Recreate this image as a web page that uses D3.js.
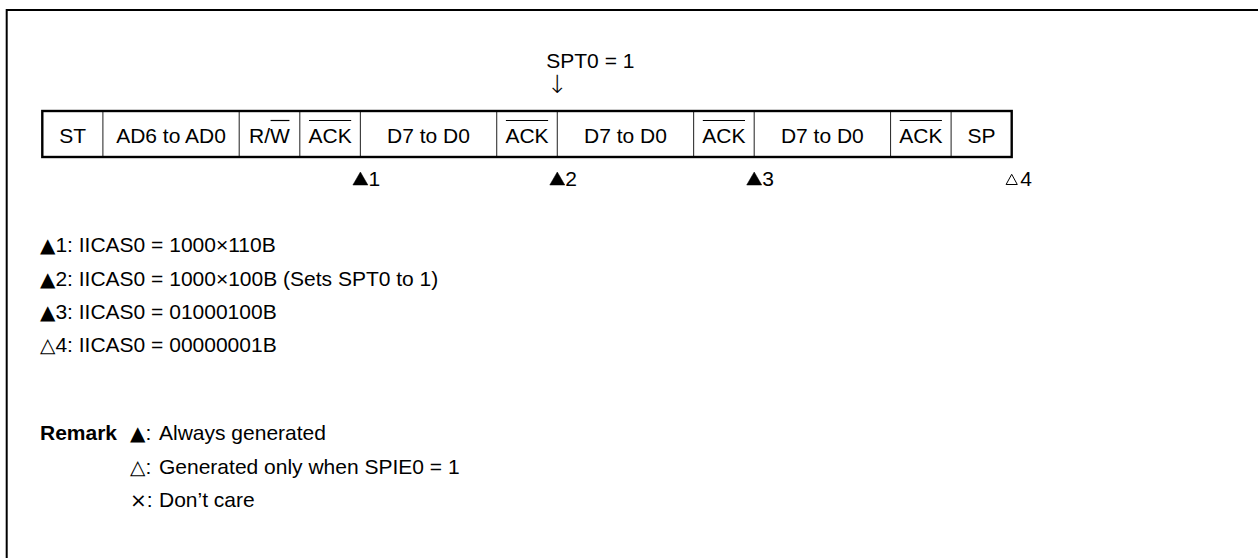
<!DOCTYPE html>
<html>
<head>
<meta charset="utf-8">
<script src="https://cdn.jsdelivr.net/npm/d3@7"></script>
<style>
  html, body { margin: 0; padding: 0; background: #fff; }
  svg { display: block; }
  text { font-family: "Liberation Sans", Arial, Helvetica, sans-serif; fill: #000; }
</style>
</head>
<body>
<svg id="chart" width="1258" height="558"></svg>
<script>
// ---- data ----
const fieldLabels = ["ST", "AD6 to AD0", "R/W", "ACK", "D7 to D0", "ACK", "D7 to D0", "ACK", "D7 to D0", "ACK", "SP"];
const fieldUnits  = [1, 2.25, 1, 1, 2.25, 1, 2.25, 1, 2.25, 1, 1];
const fieldOverline = ["none", "none", "W", "all", "none", "all", "none", "all", "none", "all", "none"];

const markerAfterField = [3, 5, 7, 10];          // marker sits at right edge of this field
const markerNumbers    = ["1", "2", "3", "4"];
const markerFilled     = [true, true, true, false];

const noteAfterField = 5;
const noteLabel = "SPT0 = 1";

const legendSymbols = ["▲", "▲", "▲", "△"];
const legendTexts = [
  "1: IICAS0 = 1000×110B",
  "2: IICAS0 = 1000×100B (Sets SPT0 to 1)",
  "3: IICAS0 = 01000100B",
  "4: IICAS0 = 00000001B"
];

const remarkTitle = "Remark";
const remarkSymbols = ["▲", "△", "×"];
const remarkTexts = ["Always generated", "Generated only when SPIE0 = 1", "Don’t care"];

// ---- layout ----
const svg = d3.select("#chart");
const fs = 21;
const boxTop = 111, boxBottom = 157, textBase = 142.5;

const edges = [0, ...d3.cumsum(fieldUnits)];
const x = d3.scaleLinear().domain([0, d3.sum(fieldUnits)]).range([42.3, 1011.7]);

// outer frame (top + left only)
svg.append("line").attr("x1", 6.7).attr("x2", 1258).attr("y1", 10).attr("y2", 10)
  .attr("stroke", "#000").attr("stroke-width", 2);
svg.append("line").attr("x1", 6.7).attr("x2", 6.7).attr("y1", 9).attr("y2", 558)
  .attr("stroke", "#000").attr("stroke-width", 2);

// field dividers
const g = svg.append("g");
g.selectAll("line.div").data(edges.slice(1, -1)).join("line")
  .attr("class", "div")
  .attr("x1", d => x(d)).attr("x2", d => x(d))
  .attr("y1", boxTop).attr("y2", boxBottom)
  .attr("stroke", "#333").attr("stroke-width", 1.1);

// box outline
g.append("rect")
  .attr("x", x(edges[0])).attr("y", boxTop)
  .attr("width", x(edges[edges.length - 1]) - x(edges[0]))
  .attr("height", boxBottom - boxTop)
  .attr("fill", "none").attr("stroke", "#000").attr("stroke-width", 2.4);

// field labels
const labels = g.selectAll("text.field").data(fieldLabels).join("text")
  .attr("class", "field")
  .attr("x", (d, i) => x((edges[i] + edges[i + 1]) / 2))
  .attr("y", textBase)
  .attr("text-anchor", "middle")
  .attr("font-size", fs)
  .text(d => d);

// overlines
labels.each(function (d, i) {
  const mode = fieldOverline[i];
  if (mode === "none") return;
  const node = this;
  const bb = node.getBBox();
  let x0 = bb.x, x1 = bb.x + bb.width;
  if (mode !== "all") {
    const idx = d.indexOf(mode);
    const start = node.getStartPositionOfChar(idx).x;
    const len = node.getSubStringLength(idx, mode.length);
    x0 = start; x1 = start + len;
  }
  g.append("line")
    .attr("x1", x0 + 0.5).attr("x2", x1 - 0.5)
    .attr("y1", textBase - 22).attr("y2", textBase - 22)
    .attr("stroke", "#000").attr("stroke-width", 1.2);
});

// note above (SPT0 = 1 with arrow)
const noteX = x(edges[noteAfterField + 1]);
svg.append("text")
  .attr("x", noteX - 11).attr("y", 68)
  .attr("font-size", fs)
  .text(noteLabel);
svg.append("text")
  .attr("x", noteX).attr("y", 93)
  .attr("text-anchor", "middle")
  .attr("font-size", 25)
  .attr("font-weight", 200)
  .style("font-family", "'DejaVu Sans', sans-serif")
  .text("↓");

// markers below the box
const markers = svg.append("g").selectAll("g").data(markerNumbers).join("g")
  .attr("transform", (d, i) => `translate(${x(edges[markerAfterField[i] + 1])},0)`);
markers.append("path")
  .attr("d", (d, i) => markerFilled[i]
    ? "M-7.5,185 L0,172 L7.5,185 Z"
    : "M-5.6,184.5 L0,174.3 L5.6,184.5 Z")
  .attr("fill", (d, i) => markerFilled[i] ? "#000" : "none")
  .attr("stroke", "#000")
  .attr("stroke-width", (d, i) => markerFilled[i] ? 0.5 : 1)
  .attr("stroke-linejoin", "miter");
markers.append("text")
  .attr("x", (d, i) => markerFilled[i] ? 8 : 8.5)
  .attr("y", 185.5)
  .attr("font-size", fs)
  .text(d => d);

// legend list
const legend = svg.append("g");
const legendBase = [252, 285.5, 319, 352.3];
legendTexts.forEach((t, i) => {
  const tx = legend.append("text").attr("x", 40).attr("y", legendBase[i]).attr("font-size", fs);
  tx.append("tspan").style("font-family", "'DejaVu Sans', sans-serif").attr("font-size", 20).text(legendSymbols[i]);
  tx.append("tspan").text(t);
});

// remark block
const remBase = [440, 473.5, 507];
svg.append("text").attr("x", 40).attr("y", remBase[0]).attr("font-size", fs)
  .attr("font-weight", "bold").text(remarkTitle);
remarkSymbols.forEach((s, i) => {
  const tx = svg.append("text").attr("x", 130).attr("y", remBase[i]).attr("font-size", fs);
  tx.append("tspan").style("font-family", "'DejaVu Sans', sans-serif").attr("font-size", 20).text(s);
  tx.append("tspan").text(":");
  svg.append("text").attr("x", 159).attr("y", remBase[i]).attr("font-size", fs).text(remarkTexts[i]);
});
</script>
</body>
</html>
